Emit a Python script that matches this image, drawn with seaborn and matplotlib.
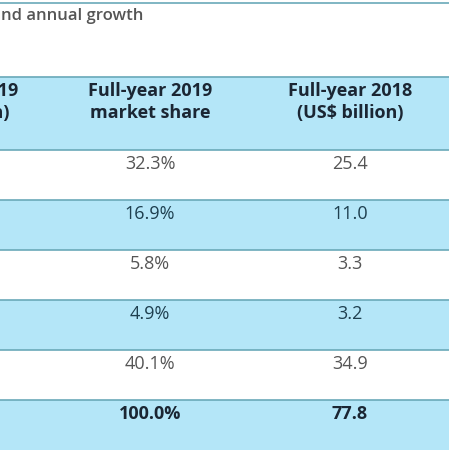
# Market share table (cropped view) - recreated with seaborn

import numpy as np
import pandas as pd
import matplotlib
matplotlib.use("Agg")
import matplotlib.pyplot as plt
from matplotlib.colors import ListedColormap
import seaborn as sns

# ---------------------------
# Data
# ---------------------------
title = "nd annual growth"
headers = ["Full-year 2019\n(US$ billion)", "Full-year 2019\nmarket share", "Full-year 2018\n(US$ billion)"]
share_2019 = ["32.3%", "16.9%", "5.8%", "4.9%", "40.1%", "100.0%"]
revenue_2018 = ["25.4", "11.0", "3.3", "3.2", "34.9", "77.8"]
stripe = [0, 1, 0, 1, 0, 1]   # white / blue rows

BLUE = "#b4e6f8"
LINE = "#6aa9b9"
GREY = "#555555"
DARK = "#1e3f4f"
NAVY = "#1b2633"

sns.set_theme(style="white")
plt.rcParams["font.family"] = ["Open Sans", "DejaVu Sans"]

fig = plt.figure(figsize=(4.49, 4.5), dpi=100)
ax = fig.add_axes([0, 0, 1, 1])

# row stripes through a heatmap: 6 body rows x 3 columns
grid = pd.DataFrame(np.repeat(np.array(stripe)[:, None], 3, axis=1))
sns.heatmap(grid, cmap=ListedColormap(["white", BLUE]), cbar=False,
            xticklabels=False, yticklabels=False, ax=ax, vmin=0, vmax=1)

# 1 data unit = 200 px horizontally, 50 px vertically
x0 = 0.75
ax.set_xlim(x0, x0 + 449 / 200)
ax.set_ylim(6, -3)
ax.axis("off")

# header band
ax.axhspan(-1.46, 0, color=BLUE, zorder=0.5)

# rules
for y in [-2.94, -1.46, 0, 1, 2, 3, 4, 5]:
    ax.axhline(y, color=LINE, lw=1.2, zorder=3)

# title (the table is cropped at the left)
ax.text(x0 + 0.003, -2.68, title, ha="left", va="center",
        fontsize=12, fontweight="semibold", color=GREY, zorder=4)

# headers (first column is mostly cropped away)
head_x = [0.53, 1.5, 2.5]
for x, h in zip(head_x, headers):
    ax.text(x, -0.96, h, ha="center", va="center", fontsize=13,
            fontweight="bold", color=NAVY, linespacing=1.25, zorder=4)

# body
for i in range(len(share_2019)):
    bold = i == len(share_2019) - 1
    col = DARK if stripe[i] else GREY
    if bold:
        col = NAVY
    for j, v in [(1, share_2019[i]), (2, revenue_2018[i])]:
        ax.text(j + 0.5, i + 0.28, v, ha="center", va="center", fontsize=13,
                fontweight="bold" if bold else "normal", color=col, zorder=4)

plt.savefig("out.png", dpi=100)
